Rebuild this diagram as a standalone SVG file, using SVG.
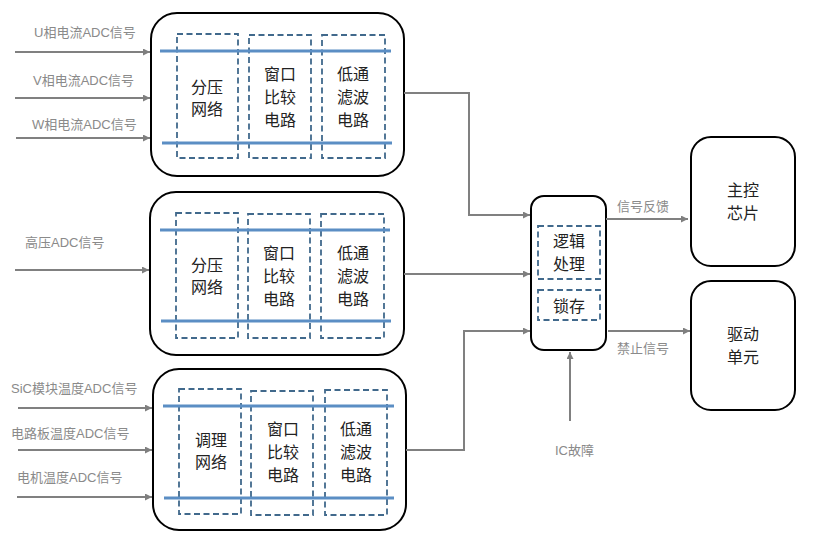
<svg xmlns="http://www.w3.org/2000/svg" width="819" height="539" viewBox="0 0 819 539">
<defs>
<marker id="arr" viewBox="0 0 10 10" refX="10" refY="5" markerWidth="7" markerHeight="7" markerUnits="userSpaceOnUse" orient="auto">
<path d="M0,0 L10,5 L0,10 z" fill="#7f7f7f"/>
</marker>
<style>
.box{fill:#fff;stroke:#000;stroke-width:2}
.dash{fill:none;stroke:#41698c;stroke-width:1.8;stroke-dasharray:6,3.5}
.bl{stroke:#5b8ec4;stroke-width:3}
.cn{fill:none;stroke:#808080;stroke-width:2;marker-end:url(#arr)}
.lb{font-family:"Liberation Sans","Noto Sans CJK SC",sans-serif;font-size:13px;fill:#8a8a8a}
.tx{font-family:"Noto Sans CJK SC",sans-serif;font-size:16px;fill:#222;text-anchor:middle}
</style>
</defs>
<rect width="819" height="539" fill="#fff"/>

<g id="block1">
<rect class="box" x="151" y="13" width="253" height="163" rx="26"/>
<rect class="dash" x="177" y="34" width="61" height="124"/>
<rect class="dash" x="249" y="35" width="62" height="123"/>
<rect class="dash" x="322" y="35" width="63" height="123"/>
<line class="bl" x1="160" y1="51" x2="391" y2="51"/>
<line class="bl" x1="162" y1="143" x2="392" y2="143"/>
<text class="tx" x="207" y="93">分压</text>
<text class="tx" x="207" y="115">网络</text>
<text class="tx" x="280" y="80">窗口</text>
<text class="tx" x="280" y="103">比较</text>
<text class="tx" x="280" y="126">电路</text>
<text class="tx" x="353" y="80">低通</text>
<text class="tx" x="353" y="103">滤波</text>
<text class="tx" x="353" y="126">电路</text>
</g>

<g id="block2">
<rect class="box" x="150" y="192" width="254" height="163" rx="26"/>
<rect class="dash" x="176" y="213" width="62" height="125"/>
<rect class="dash" x="248" y="214" width="62" height="124"/>
<rect class="dash" x="321" y="214" width="63" height="124"/>
<line class="bl" x1="160" y1="230" x2="390" y2="230"/>
<line class="bl" x1="161" y1="321" x2="391" y2="321"/>
<text class="tx" x="207" y="271">分压</text>
<text class="tx" x="207" y="293">网络</text>
<text class="tx" x="279" y="259">窗口</text>
<text class="tx" x="279" y="282">比较</text>
<text class="tx" x="279" y="305">电路</text>
<text class="tx" x="353" y="259">低通</text>
<text class="tx" x="353" y="282">滤波</text>
<text class="tx" x="353" y="305">电路</text>
</g>

<g id="block3">
<rect class="box" x="153" y="369" width="253" height="161" rx="26"/>
<rect class="dash" x="179" y="389" width="62" height="125"/>
<rect class="dash" x="251" y="391" width="62" height="124"/>
<rect class="dash" x="325" y="390" width="62" height="125"/>
<line class="bl" x1="163" y1="406" x2="394" y2="406"/>
<line class="bl" x1="164" y1="498" x2="394" y2="498"/>
<text class="tx" x="211" y="446">调理</text>
<text class="tx" x="211" y="468">网络</text>
<text class="tx" x="283" y="435">窗口</text>
<text class="tx" x="283" y="458">比较</text>
<text class="tx" x="283" y="481">电路</text>
<text class="tx" x="356" y="435">低通</text>
<text class="tx" x="356" y="458">滤波</text>
<text class="tx" x="356" y="481">电路</text>
</g>

<g id="logic">
<rect class="box" x="531" y="196" width="75" height="154" rx="13"/>
<rect class="dash" x="538" y="226" width="62" height="53"/>
<rect class="dash" x="538" y="290" width="62" height="30"/>
<text class="tx" x="569" y="247">逻辑</text>
<text class="tx" x="569" y="270">处理</text>
<text class="tx" x="569" y="312">锁存</text>
</g>

<g id="mcu">
<rect class="box" x="691" y="137" width="104" height="129" rx="20"/>
<text class="tx" x="743" y="196">主控</text>
<text class="tx" x="743" y="219">芯片</text>
</g>

<g id="driver">
<rect class="box" x="691" y="281" width="104" height="129" rx="20"/>
<text class="tx" x="743" y="340">驱动</text>
<text class="tx" x="743" y="363">单元</text>
</g>

<g id="connectors">
<line class="cn" x1="15" y1="52" x2="150" y2="52"/>
<line class="cn" x1="15" y1="98" x2="150" y2="98"/>
<line class="cn" x1="16" y1="138" x2="150" y2="138"/>
<line class="cn" x1="15" y1="270" x2="149" y2="270"/>
<line class="cn" x1="18" y1="408" x2="152" y2="408"/>
<line class="cn" x1="18" y1="450" x2="152" y2="450"/>
<line class="cn" x1="17" y1="497" x2="152" y2="497"/>
<polyline class="cn" points="404,93 469,93 469,215 530,215"/>
<polyline class="cn" points="404,274 530,274"/>
<polyline class="cn" points="406,450 464,450 464,331 530,331"/>
<line class="cn" x1="570" y1="421" x2="570" y2="352"/>
<line class="cn" x1="606" y1="219" x2="688" y2="219"/>
<line class="cn" x1="608" y1="331" x2="690" y2="331"/>
</g>

<g id="labels">
<text class="lb" x="34" y="37">U相电流ADC信号</text>
<text class="lb" x="33" y="85">V相电流ADC信号</text>
<text class="lb" x="32" y="129">W相电流ADC信号</text>
<text class="lb" x="25" y="247">高压ADC信号</text>
<text class="lb" x="11" y="393">SiC模块温度ADC信号</text>
<text class="lb" x="11" y="438">电路板温度ADC信号</text>
<text class="lb" x="17" y="482">电机温度ADC信号</text>
<text class="lb" x="617" y="211">信号反馈</text>
<text class="lb" x="617" y="353">禁止信号</text>
<text class="lb" x="555" y="455">IC故障</text>
</g>
</svg>
